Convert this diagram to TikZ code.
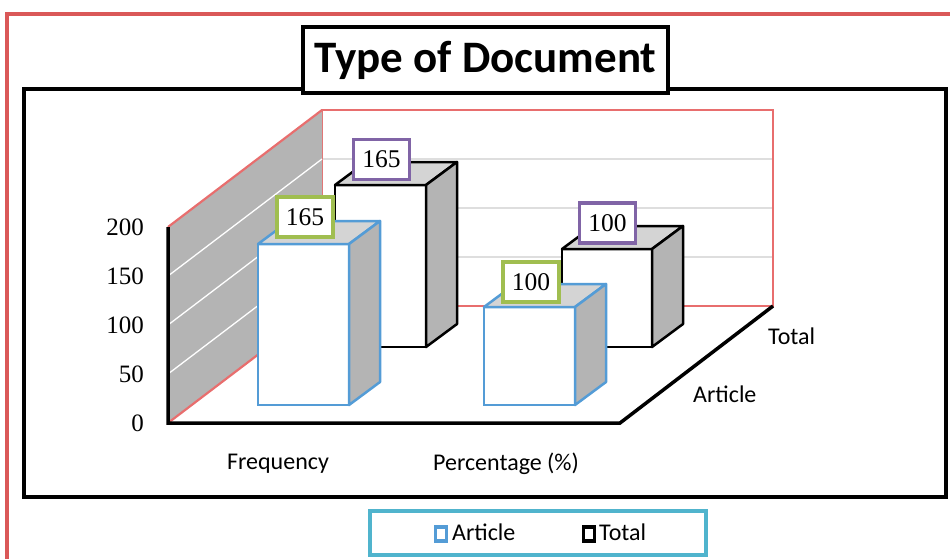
\documentclass[tikz,border=0pt]{standalone}
\usepackage{fontspec}
\newfontfamily\numfont{Liberation Serif}
\newfontfamily\calfont{Carlito}
\definecolor{framered}{RGB}{218,88,88}
\definecolor{wallred}{RGB}{232,110,110}
\definecolor{sidegray}{RGB}{180,180,180}
\definecolor{topgray}{RGB}{212,212,212}
\definecolor{gridgray}{RGB}{222,222,222}
\definecolor{artblue}{RGB}{84,156,214}
\definecolor{lblgreen}{RGB}{160,190,80}
\definecolor{lblpurple}{RGB}{128,100,166}
\definecolor{legcyan}{RGB}{80,180,205}
\newcommand\cuboid[5]{%
  \fill[white] (#1,#3) rectangle (#2,#4);
  \filldraw[fill=topgray,draw=#5,line width=2.5,line join=round] (#1,#3) -- ({#1+31},{#3-23}) -- ({#2+31},{#3-23}) -- (#2,#3) -- cycle;
  \filldraw[fill=sidegray,draw=#5,line width=2.5,line join=round] (#2,#3) -- ({#2+31},{#3-23}) -- ({#2+31},{#4-23}) -- (#2,#4) -- cycle;
  \draw[draw=#5,line width=2.5] (#1,#3) rectangle (#2,#4);
}
\tikzset{
  vlabel/.style={draw,line width=3.5,fill=white,inner sep=0pt,minimum width=56,minimum height=40,font=\numfont\fontsize{25.5}{25.5}\selectfont},
  tick/.style={anchor=east,inner sep=0pt,font=\numfont\fontsize{25}{25}\selectfont},
  cat/.style={inner sep=0pt,font=\calfont\fontsize{24}{24}\selectfont},
  legsq/.style={draw,line width=3.5,fill=white,inner sep=0pt,minimum width=11,minimum height=14}
}
\begin{document}
\begin{tikzpicture}[x=1pt,y=-1pt]
\useasboundingbox (0,0) rectangle (950,558);
% outer frame
\draw[framered,line width=3.5] (7,562) -- (7,14) -- (955,14);
% plot box
\draw[black,line width=3.2] (24,89) rectangle (946,497);
% back wall
\foreach \yy in {159,208,257} \draw[gridgray,line width=1.5] (322,\yy) -- (773,\yy);
\draw[wallred,line width=2.2] (322,110) rectangle (773,306);
% side wall
\fill[sidegray] (168,227) -- (322,110) -- (322,306) -- (168,423) -- cycle;
\foreach \yy in {49,98,147} \draw[white,line width=1.3] (168,{423-\yy}) -- (322,{306-\yy});
\draw[wallred,line width=2.2] (168,227) -- (322,110);
\draw[wallred,line width=2.2] (168,423) -- (322,306);
% axes
\draw[black,line width=3.5,line join=miter] (168,227) -- (168,423) -- (620,423) -- (773,306);
% bars: Total row
\cuboid{335}{426}{185}{347}{black}
\cuboid{562}{652}{249}{347}{black}
% bars: Article row
\cuboid{258}{349}{244}{405}{artblue}
\cuboid{484}{575}{307}{405}{artblue}
% value labels
\node[vlabel,draw=lblpurple] (tf) at (381.5,159.5) {165};
\node[vlabel,draw=lblpurple] (tp) at (607.5,223) {100};
\node[vlabel,draw=lblgreen] (af) at (305,217) {165};
\node[vlabel,draw=lblgreen] (ap) at (531,282) {100};
% ticks
\node[tick] (t200) at (144,227) {200};
\node[tick] (t150) at (144,276) {150};
\node[tick] (t100) at (144,325) {100};
\node[tick] (t50) at (144,374) {50};
\node[tick] (t0) at (144,423) {0};
% categories
\node[cat] (freq) at (278,464) {Frequency};
\node[cat] (pct) at (506,464) {Percentage (\%)};
\node[cat,anchor=west] (stot) at (768,336) {Total};
\node[cat,anchor=west] (sart) at (693,394) {Article};
% title
\node[draw,line width=3.2,fill=white,minimum width=365,minimum height=66,inner sep=0pt,font=\calfont\bfseries\fontsize{45}{45}\selectfont] (title) at (485.5,60) {Type of Document};
% legend
\node[draw=legcyan,line width=3.5,minimum width=336,minimum height=44,inner sep=0pt] (legend) at (538,533) {};
\node[legsq,draw=artblue] (lsa) at (441,534) {};
\node[cat,anchor=west] (lta) at (452,532) {Article};
\node[legsq,draw=black] (lst) at (589,534) {};
\node[cat,anchor=west] (ltt) at (599,532) {Total};
\end{tikzpicture}
\end{document}
